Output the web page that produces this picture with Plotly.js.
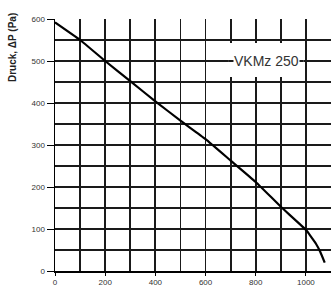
<!DOCTYPE html>
<html>
<head>
<meta charset="utf-8">
<script src="https://cdn.plot.ly/plotly-3.0.1.min.js"></script>
<style>html,body{margin:0;padding:0;background:#fff;}#chart{width:331px;height:287px;}</style>
</head>
<body>
<div id="chart"></div>
<script>
// Volume flow (m³/h) and pressure (Pa)
const flow = [0, 100, 200, 300, 400, 500, 600, 700, 800, 900, 1000, 1020, 1040, 1057, 1075];
const pressure = [592, 550, 500, 452, 404, 358, 314, 263, 212, 153, 98, 82, 65, 46, 20];
const xTicks = [0, 200, 400, 600, 800, 1000];
const yTicks = [0, 100, 200, 300, 400, 500, 600];
const curveLabel = "VKMz 250";
const yTitle = "Druck, ΔP (Pa)";

const gridColor = '#1a1a1a';
const tickFont = {family: 'Liberation Sans, Arial, sans-serif', size: 8, color: '#333'};

const trace = {
  x: flow, y: pressure, type: 'scatter', mode: 'lines',
  line: {color: '#000', width: 2.2, shape: 'spline', smoothing: 0.4},
  hoverinfo: 'skip'
};

const layout = {
  width: 331, height: 287,
  margin: {l: 55, r: 0, t: 19, b: 16},
  paper_bgcolor: '#fff', plot_bgcolor: '#fff',
  showlegend: false,
  xaxis: {
    range: [0, 1100], tickvals: xTicks, ticktext: xTicks.map(String),
    showgrid: true, gridcolor: gridColor, gridwidth: 1.8,
    minor: {dtick: 100, showgrid: true, gridcolor: gridColor, gridwidth: 1.8, ticks: ''},
    showline: true, linecolor: '#000', linewidth: 1.5,
    ticks: 'outside', ticklen: 3, tickcolor: '#000',
    tickfont: tickFont, zeroline: false, fixedrange: true
  },
  yaxis: {
    range: [0, 600], tickvals: yTicks, ticktext: yTicks.map(String),
    showgrid: true, gridcolor: gridColor, gridwidth: 1.8,
    minor: {dtick: 50, showgrid: true, gridcolor: gridColor, gridwidth: 1.8, ticks: ''},
    showline: true, linecolor: '#000', linewidth: 1.5,
    ticks: 'outside', ticklen: 7, tickcolor: '#000',
    tickfont: tickFont, zeroline: false, fixedrange: true
  },
  shapes: [
    {type: 'rect', xref: 'x', yref: 'y', x0: 690, x1: 990, y0: 462, y1: 543,
     fillcolor: '#fff', line: {width: 0}, layer: 'between'},
    {type: 'line', xref: 'x', yref: 'y', x0: 690, x1: 990, y0: 500, y1: 500,
     line: {color: gridColor, width: 1.8}, layer: 'between'}
  ],
  annotations: [
    {text: curveLabel, xref: 'x', yref: 'y', x: 844, y: 500, showarrow: false,
     font: {family: 'Liberation Sans, Arial, sans-serif', size: 14, color: '#333'},
     bgcolor: '#fff', borderpad: 0, xanchor: 'center', yanchor: 'middle'},
    {text: '<b>' + yTitle + '</b>', xref: 'paper', yref: 'paper', x: -0.152, y: 0.885,
     textangle: -90, showarrow: false, xanchor: 'center', yanchor: 'middle',
     font: {family: 'Liberation Sans, Arial, sans-serif', size: 10, color: '#222'}}
  ]
};

Plotly.newPlot('chart', [trace], layout, {displayModeBar: false, staticPlot: true});
</script>
</body>
</html>
